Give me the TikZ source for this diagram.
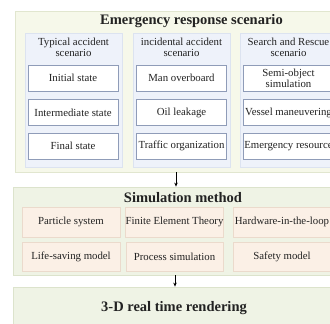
\documentclass[tikz,border=0pt]{standalone}
\usepackage{fontspec}
\setmainfont{Liberation Serif}
\usetikzlibrary{arrows.meta}
\definecolor{outerfill}{HTML}{F6F8EA}
\definecolor{outerdraw}{HTML}{E1E6CF}
\definecolor{panelfill}{HTML}{EEF2FA}
\definecolor{paneldraw}{HTML}{DCE3F0}
\definecolor{boxdraw}{HTML}{8F9CB8}
\definecolor{simfill}{HTML}{EFF3E5}
\definecolor{simdraw}{HTML}{DCE3CC}
\definecolor{peachfill}{HTML}{FBF0E6}
\definecolor{peachdraw}{HTML}{EBDACC}
\definecolor{txt}{HTML}{222222}
\tikzset{
  bigbox/.style={draw=#1, line width=0.8pt, inner sep=0pt, anchor=center},
  panel/.style={draw=paneldraw, fill=panelfill, line width=0.8pt, minimum width=97pt, minimum height=134pt, inner sep=0pt},
  wbox/.style={draw=boxdraw, fill=white, line width=0.8pt, minimum width=90pt, minimum height=26pt, inner sep=0pt, align=center, font=\fontsize{10.8}{11}\selectfont, text=txt},
  pbox/.style={draw=peachdraw, fill=peachfill, line width=0.8pt, minimum width=98pt, inner sep=0pt, align=center, font=\fontsize{10.8}{11}\selectfont, text=txt},
  head/.style={align=center, font=\fontsize{10.8}{11}\selectfont, text=txt, inner sep=0pt},
  ttl/.style={font=\fontsize{14.5}{16}\selectfont\bfseries, text=txt, inner sep=0pt},
  arr/.style={-{Stealth[length=4pt,width=3.5pt]}, line width=0.8pt, black}
}
\begin{document}
\begin{tikzpicture}[x=1pt,y=-1pt]
\useasboundingbox (0,0) rectangle (330,324);
\clip (0,0) rectangle (330,324);
\fill[white] (0,0) rectangle (330,324);
% top block
\node[bigbox=outerdraw, fill=outerfill, minimum width=332pt, minimum height=161pt] (outer) at (181,91.5) {};
\node[ttl] (t1) at (191.5,21) {Emergency response scenario};
\node[panel] (p1) at (73.5,100) {};
\node[panel] (p2) at (181.5,100) {};
\node[panel] (p3) at (288.5,100) {};
\node[head] (h1) at (73.5,47.5) {Typical accident\\scenario};
\node[head] (h2) at (181.5,47.5) {incidental accident\\scenario};
\node[head] (h3) at (288.5,47.5) {Search and Rescue\\scenario};
\node[wbox] (a1) at (73,78) {Initial state};
\node[wbox] (a2) at (73,112.5) {Intermediate state};
\node[wbox] (a3) at (73,146) {Final state};
\node[wbox] (b1) at (181.5,78) {Man overboard};
\node[wbox] (b2) at (181.5,112.5) {Oil leakage};
\node[wbox] (b3) at (181.5,146) {Traffic organization};
\node[wbox] (c1) at (288.5,78) {Semi-object\\simulation};
\node[wbox] (c2) at (288.5,112.5) {Vessel maneuvering};
\node[wbox] (c3) at (288.5,146) {Emergency resource};
% simulation block
\node[bigbox=simdraw, fill=simfill, minimum width=327pt, minimum height=88pt] (sim) at (176.5,231) {};
\node[ttl] (t2) at (183,197.5) {Simulation method};
\node[pbox, minimum height=30pt] (s1) at (71,222) {Particle system};
\node[pbox, minimum height=30pt, minimum width=97pt] (s2) at (174.5,222) {Finite Element Theory};
\node[pbox, minimum height=30pt] (s3) at (282,222) {Hardware-in-the-loop};
\node[pbox, minimum height=29pt] (s4) at (71,256.5) {Life-saving model};
\node[pbox, minimum height=29pt, minimum width=97pt] (s5) at (174.5,256.5) {Process simulation};
\node[pbox, minimum height=29pt] (s6) at (282,256.5) {Safety model};
% render block
\node[bigbox=simdraw, fill=simfill, minimum width=327pt, minimum height=42pt] (ren) at (176.5,308) {};
\node[ttl] (t3) at (174,308) {3-D real time rendering};
% arrows
\coordinate (ax1) at (176,0);
\coordinate (ax2) at (175,0);
\draw[arr] (outer.south -| ax1) -- (sim.north -| ax1);
\draw[arr] (sim.south -| ax2) -- (ren.north -| ax2);
\end{tikzpicture}
\end{document}
